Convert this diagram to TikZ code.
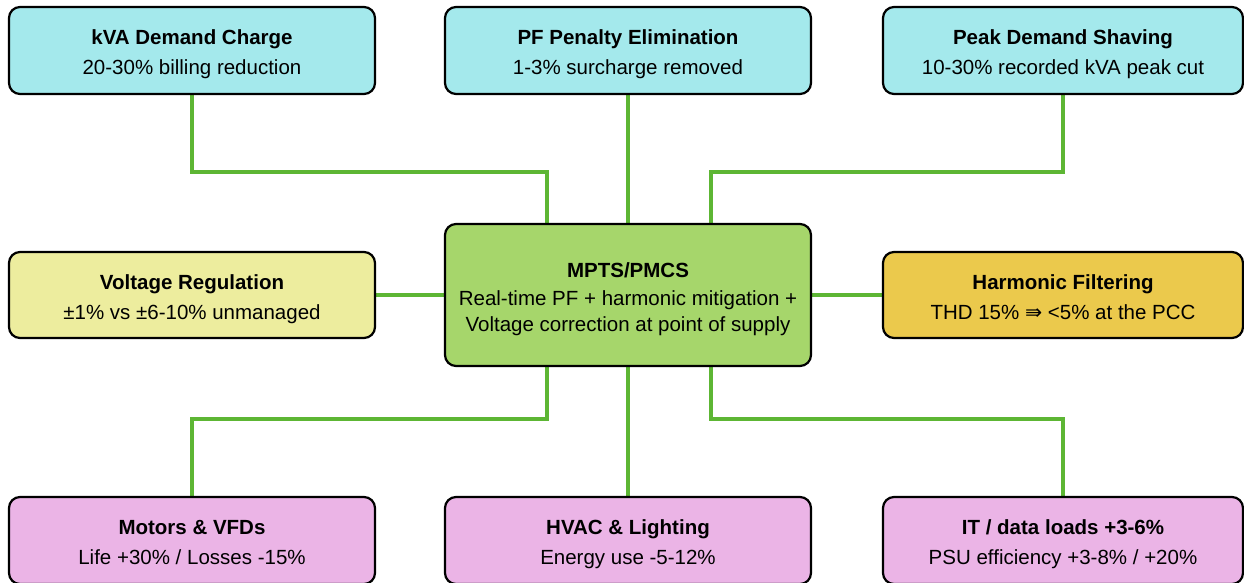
\documentclass[tikz,border=0pt]{standalone}
\usepackage{fontspec}
\setmainfont{Liberation Sans}
\newfontfamily\symfont{DejaVu Sans}
\usetikzlibrary{backgrounds}
\definecolor{cyanbox}{HTML}{A4E9EC}
\definecolor{yelbox}{HTML}{EDED9E}
\definecolor{goldbox}{HTML}{EBC94C}
\definecolor{corebox}{HTML}{A6D66B}
\definecolor{pinkbox}{HTML}{EBB4E6}
\definecolor{wire}{HTML}{5DB634}
\tikzset{
  card/.style={draw=black, line width=2.2pt, rounded corners=11pt, align=center,
    minimum width=366pt, minimum height=87pt, inner sep=0pt,
    font=\fontsize{20.5}{30}\selectfont},
  link/.style={draw=wire, line width=3.4pt}
}
\newcommand{\ttl}[1]{\rule{0pt}{23pt}{\bfseries #1}}
\newcommand{\dstrut}{\rule[-4.3pt]{0pt}{4.3pt}}
\begin{document}
\begin{tikzpicture}[x=1pt,y=-1pt]
\useasboundingbox (0,0) rectangle (1244,582);
\node[card, fill=cyanbox] (kva) at (192,50.5) {\ttl{kVA Demand Charge}\\20-30\% billing reduction};
\node[card, fill=cyanbox] (pf) at (628,50.5) {\ttl{PF Penalty Elimination}\\1-3\% surcharge removed};
\node[card, fill=cyanbox, minimum width=360pt] (peak) at (1063,50.5) {\ttl{Peak Demand Shaving}\\10-30\% recorded kVA peak cut};
\node[card, fill=yelbox, minimum height=86pt] (volt) at (192,295) {\ttl{Voltage Regulation}\\±1\% vs ±6-10\% unmanaged};
\node[card, fill=corebox, minimum height=142pt, font=\fontsize{20.5}{26.5}\selectfont] (core) at (628,295) {\ttl{MPTS/PMCS}\\[1.5pt]Real-time PF + harmonic mitigation +\\Voltage correction at point of supply};
\node[card, fill=goldbox, minimum width=360pt, minimum height=86pt] (harm) at (1063,295) {\ttl{Harmonic Filtering}\\THD 15\% \smash{\symfont ⇛} <5\% at the PCC\dstrut};
\node[card, fill=pinkbox] (motor) at (192,540.5) {\ttl{Motors \& VFDs}\\Life +30\% / Losses -15\%\dstrut};
\node[card, fill=pinkbox] (hvac) at (628,540.5) {\ttl{HVAC \& Lighting}\\Energy use -5-12\%};
\node[card, fill=pinkbox, minimum width=360pt] (it) at (1063,540.5) {\ttl{IT / data loads +3-6\%}\\PSU efficiency +3-8\% / +20\%};
\begin{pgfonlayer}{background}
\fill[white] (0,0) rectangle (1244,582);
\draw[link] (kva.south) -- ++(0,77) -| ([xshift=-81pt]core.north);
\draw[link] (pf.south) -- (core.north);
\draw[link] (peak.south) -- ++(0,77) -| ([xshift=83pt]core.north);
\draw[link] (volt.east) -- (core.west);
\draw[link] (core.east) -- (harm.west);
\draw[link] ([xshift=-81pt]core.south) -- ++(0,52) -| (motor.north);
\draw[link] (core.south) -- (hvac.north);
\draw[link] ([xshift=83pt]core.south) -- ++(0,52) -| (it.north);
\end{pgfonlayer}
\end{tikzpicture}
\end{document}
